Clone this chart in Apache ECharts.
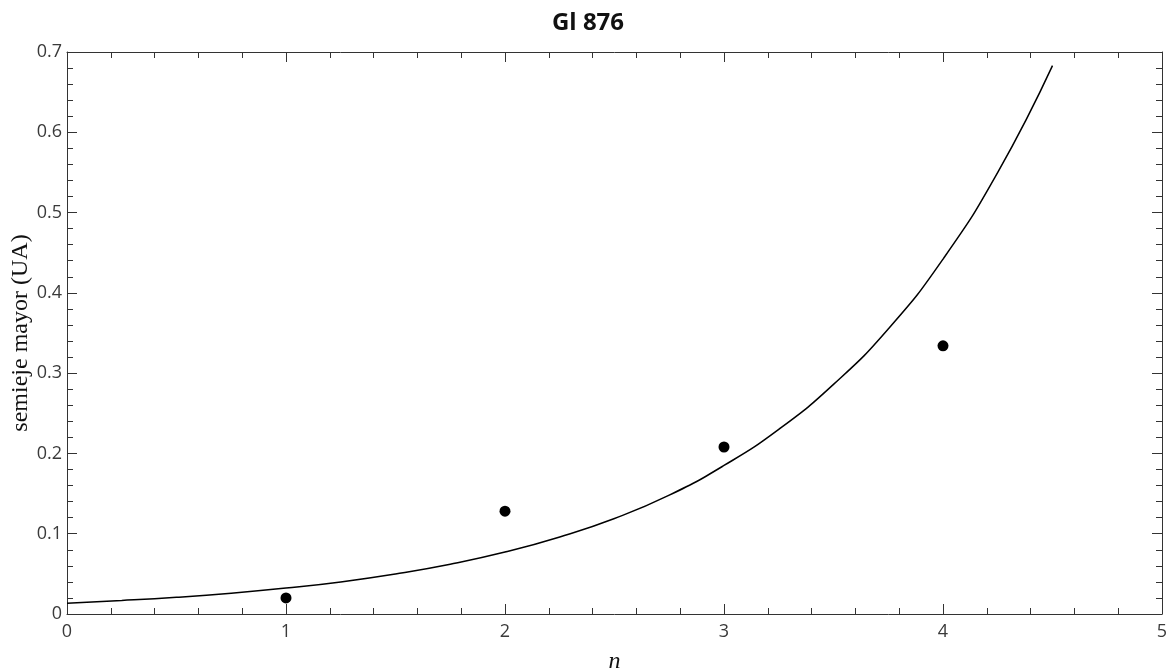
<!DOCTYPE html>
<html>
<head>
<meta charset="utf-8">
<script src="https://cdn.jsdelivr.net/npm/echarts@6/dist/echarts.min.js"></script>
<style>html,body{margin:0;padding:0;background:#fff}#c{width:1176px;height:671px}</style>
</head>
<body>
<div id="c"></div>
<script>
const titleText = 'Gl 876';
const xName = 'n';
const yName = 'semieje mayor (UA)';
// observed planets: index n and semi-major axis (AU)
const pointN = [1, 2, 3, 4];
const pointA = [0.020, 0.128, 0.208, 0.334];
// fitted curve, values
const curveN = [0, 0.25, 0.5, 0.75, 1, 1.25, 1.5, 1.75, 2, 2.25, 2.5, 2.75, 3, 3.25, 3.5, 3.75, 4, 4.25, 4.5];
const curveA = [0.0135, 0.0168, 0.0208, 0.0259, 0.0323, 0.0400, 0.0499, 0.0620, 0.0771, 0.0960, 0.119, 0.148, 0.185, 0.230, 0.286, 0.355, 0.442, 0.550, 0.683];

const chart = echarts.init(document.getElementById('c'), null, {renderer: 'canvas'});
const labelFont = {color: '#3a3a3a', fontSize: 18, fontFamily: 'Open Sans'};
const lineStyle = {color: '#333', width: 1};
function axisCommon(extra) {
  return Object.assign({
    type: 'value',
    axisLine: {show: true, onZero: false, lineStyle: lineStyle},
    axisTick: {show: true, inside: true, length: 10, lineStyle: lineStyle},
    minorTick: {show: true, splitNumber: 5, length: 6, lineStyle: lineStyle},
    splitLine: {show: false},
    minorSplitLine: {show: false}
  }, extra);
}
chart.setOption({
  animation: false,
  backgroundColor: '#fff',
  title: {
    text: titleText, left: 'center', top: 6,
    textStyle: {fontSize: 24, fontWeight: 'bold', color: '#111', fontFamily: 'Open Sans'}
  },
  grid: {left: 67, right: 14, top: 52, bottom: 57, containLabel: false, outerBoundsMode: 'none'},
  xAxis: [
    axisCommon({
      min: 0, max: 5, interval: 1, position: 'bottom',
      axisLabel: Object.assign({margin: 9}, labelFont),
      name: xName, nameLocation: 'middle', nameGap: 36, nameMoveOverlap: false,
      nameTextStyle: {fontFamily: 'Liberation Serif', fontStyle: 'italic', fontSize: 24, color: '#111'}
    }),
    axisCommon({min: 0, max: 5, interval: 1, position: 'top', axisLabel: {show: false}})
  ],
  yAxis: [
    axisCommon({
      min: 0, max: 0.7, interval: 0.1, position: 'left',
      axisLabel: Object.assign({margin: 5, formatter: v => String(+v.toFixed(1))}, labelFont),
      name: yName, nameLocation: 'middle', nameGap: 34, nameMoveOverlap: false,
      nameTextStyle: {fontFamily: 'Liberation Serif', fontSize: 24, color: '#111'}
    }),
    axisCommon({min: 0, max: 0.7, interval: 0.1, position: 'right', axisLabel: {show: false}})
  ],
  series: [
    {
      type: 'line', smooth: true, showSymbol: false, symbol: 'none',
      data: curveN.map((n, i) => [n, curveA[i]]),
      lineStyle: {color: '#000', width: 1.5}
    },
    {
      type: 'scatter', symbol: 'circle', symbolSize: 11,
      data: pointN.map((n, i) => [n, pointA[i]]),
      itemStyle: {color: '#000', opacity: 1}
    }
  ]
});
</script>
</body>
</html>
